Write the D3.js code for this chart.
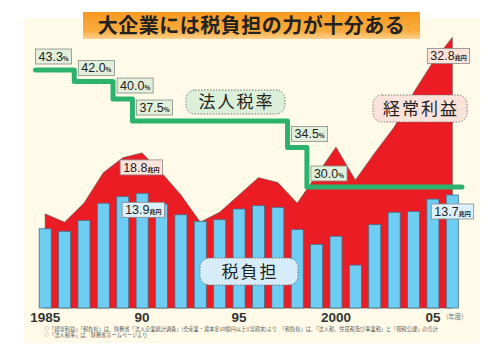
<!DOCTYPE html>
<html lang="ja">
<head>
<meta charset="UTF-8">
<title>大企業には税負担の力が十分ある</title>
<script src="https://d3js.org/d3.v7.min.js"></script>
<style>
  body { margin: 0; background: #fff; font-family: "Liberation Sans", Arial, sans-serif; }
  .jp { font-family: "Noto Sans CJK JP", sans-serif; }
</style>
</head>
<body>
<div id="chart"></div>
<script>
  // data (兆円, %)
  const years = [1985, 1986, 1987, 1988, 1989, 1990, 1991, 1992, 1993, 1994, 1995,
                 1996, 1997, 1998, 1999, 2000, 2001, 2002, 2003, 2004, 2005, 2006];
  const taxBurden = [9.6, 9.3, 10.6, 12.7, 13.5, 13.9, 12.6, 11.3, 10.5, 10.7, 12.0,
                     12.4, 12.2, 9.5, 7.7, 8.7, 5.2, 10.1, 11.6, 11.7, 13.2, 13.7];
  const profit = [11.4, 10.4, 12.7, 16.4, 18.2, 18.8, 16.4, 13.7, 10.4, 11.6, 13.7,
                  15.8, 15.2, 12.7, 16.1, 19.5, 15.5, 18.8, 21.9, 26.1, 29.8, 32.8];
  const taxRate = [43.3, 43.3, 42.0, 42.0, 40.0, 37.5, 37.5, 37.5, 37.5, 37.5, 37.5,
                   37.5, 37.5, 34.5, 30.0, 30.0, 30.0, 30.0, 30.0, 30.0, 30.0, 30.0];
  const tickYears = [1985, 1990, 1995, 2000, 2005];
  const tickLabels = ["1985", "90", "95", "2000", "05"];

  const W = 500, H = 353;
  const svg = d3.select("#chart").append("svg")
    .attr("width", W).attr("height", H);

  // cream panel
  svg.append("rect")
    .attr("x", 24).attr("y", 18).attr("width", 456).attr("height", 325)
    .attr("fill", "#fffbe8");

  const x = d3.scaleBand()
    .domain(years)
    .range([35.5, 462])
    .paddingInner(0.38)
    .paddingOuter(0.19);
  const step = x.step();
  const cx = d => x(d) + x.bandwidth() / 2;

  const y = d3.scaleLinear().domain([0, 33]).range([308, 35.75]);
  const yRate = d3.scaleLinear().domain([30, 43.3]).range([187, 70]);

  // 経常利益 area
  const area = d3.area()
    .x(d => cx(d[0]))
    .y0(y(0))
    .y1(d => y(d[1]));
  svg.append("path")
    .datum(years.map((yr, i) => [yr, profit[i]]))
    .attr("d", area)
    .attr("fill", "#ec1c24")
    .attr("stroke", "#6b4a4a")
    .attr("stroke-width", 0.7);

  // 税負担 bars
  svg.selectAll("rect.bar")
    .data(years)
    .join("rect")
    .attr("class", "bar")
    .attr("x", d => x(d))
    .attr("y", (d, i) => y(taxBurden[i]))
    .attr("width", x.bandwidth())
    .attr("height", (d, i) => y(0) - y(taxBurden[i]))
    .attr("fill", "#6dcdf3")
    .attr("stroke", "#44708a")
    .attr("stroke-width", 0.8);

  // 法人税率 step line
  const ratePts = years.map((yr, i) => [cx(yr) - step / 2, yRate(taxRate[i])]);
  ratePts.push([cx(years[years.length - 1]) + step / 2, yRate(taxRate[taxRate.length - 1])]);
  svg.append("path")
    .attr("d", d3.line().curve(d3.curveStepAfter)(ratePts))
    .attr("fill", "none")
    .attr("stroke", "#2bb36e")
    .attr("stroke-width", 5)
    .attr("stroke-linejoin", "round")
    .attr("stroke-linecap", "round");

  // small value tag
  function tag(left, top, num, unit, fill) {
    const g = svg.append("g");
    const t = g.append("text")
      .attr("x", left + 3).attr("y", top + 12)
      .attr("font-size", 12.5)
      .attr("fill", "#222");
    t.append("tspan").text(num);
    t.append("tspan").attr("class", "jp").attr("font-size", 6).attr("font-weight", "bold").text(unit);
    const w = t.node().getComputedTextLength() + 6;
    g.insert("rect", "text")
      .attr("x", left).attr("y", top)
      .attr("width", w).attr("height", 15)
      .attr("fill", fill)
      .attr("stroke", "#8a8a8a")
      .attr("stroke-width", 0.8);
    return w;
  }

  // rate tags where the rate changes
  taxRate.forEach((r, i) => {
    if (i > 0 && r === taxRate[i - 1]) return;
    const left = cx(years[i]) - step / 2 + (i === 0 ? 0 : 4);
    tag(left, yRate(r) - 21, r.toFixed(1), "%", "#e1efdb");
  });

  // value tags
  const i90 = years.indexOf(1990), iLast = years.length - 1;
  tag(cx(1990) - 22, y(profit[i90]) + 7, profit[i90].toFixed(1), "兆円", "#fde3da");
  tag(cx(1990) - 20, y(taxBurden[i90]) + 9, taxBurden[i90].toFixed(1), "兆円", "#dcf0fb");
  tag(cx(years[iLast]) - 25, y(profit[iLast]) + 11, profit[iLast].toFixed(1), "兆円", "#fde3da");
  tag(cx(years[iLast]) - 21, y(taxBurden[iLast]) + 9, taxBurden[iLast].toFixed(1), "兆円", "#dcf0fb");

  // series name badges
  function badge(x0, y0, w, h, label, fill) {
    svg.append("rect")
      .attr("x", x0).attr("y", y0).attr("width", w).attr("height", h)
      .attr("rx", 9)
      .attr("fill", fill)
      .attr("stroke", "#777")
      .attr("stroke-width", 1)
      .attr("stroke-dasharray", "1.5,1.5");
    svg.append("text")
      .attr("class", "jp")
      .attr("x", x0 + w / 2 + 1).attr("y", y0 + h / 2 + 6)
      .attr("text-anchor", "middle")
      .attr("font-size", 17)
      .attr("letter-spacing", 2)
      .attr("fill", "#222")
      .text(label);
  }
  badge(186, 90, 99, 24, "法人税率", "#dcefd9");
  badge(373, 95, 94, 27, "経常利益", "#fbe3dc");
  badge(200, 258, 98, 27, "税負担", "#d6edf9");

  // x labels
  const ax = svg.append("g")
    .attr("transform", `translate(0, ${y(0)})`)
    .call(d3.axisBottom(x).tickValues(tickYears).tickSize(0)
      .tickFormat(d => tickLabels[tickYears.indexOf(d)]));
  ax.select(".domain").remove();
  ax.selectAll("text")
    .attr("dy", 0)
    .attr("y", 13.5)
    .attr("font-family", "Liberation Sans, Arial, sans-serif")
    .attr("font-size", 13.5)
    .attr("font-weight", "bold")
    .attr("fill", "#333");
  svg.append("text")
    .attr("class", "jp")
    .attr("x", 446).attr("y", 318.5)
    .attr("font-size", 6.5)
    .attr("fill", "#777")
    .text("(年度)");

  // title
  const grad = svg.append("defs").append("linearGradient")
    .attr("id", "tg").attr("x1", 0).attr("y1", 0).attr("x2", 0).attr("y2", 1);
  grad.append("stop").attr("offset", "0%").attr("stop-color", "#f69a20");
  grad.append("stop").attr("offset", "70%").attr("stop-color", "#f9ab3e");
  grad.append("stop").attr("offset", "100%").attr("stop-color", "#fdd18c");
  svg.append("rect")
    .attr("x", 83).attr("y", 12).attr("width", 337).attr("height", 27)
    .attr("fill", "url(#tg)");
  svg.append("text")
    .attr("class", "jp")
    .attr("x", 251.5).attr("y", 33)
    .attr("text-anchor", "middle")
    .attr("font-size", 20)
    .attr("font-weight", "bold")
    .attr("letter-spacing", 0.5)
    .attr("fill", "#222")
    .text("大企業には税負担の力が十分ある");

  // footnotes
  const notes = [
    "◇「経常利益」「税負担」は、財務省「法人企業統計調査」(全産業・資本金10億円以上)(当期末)より　「税負担」は、「法人税、住民税及び事業税」と「租税公課」の合計",
    "◇「法人税率」は、財務省ホームページより"
  ];
  svg.selectAll("text.note")
    .data(notes)
    .join("text")
    .attr("class", "note jp")
    .attr("x", 44)
    .attr("y", (d, i) => 331 + i * 6.3)
    .attr("font-size", 5.2)
    .attr("fill", "#555")
    .text(d => d);
</script>
</body>
</html>
